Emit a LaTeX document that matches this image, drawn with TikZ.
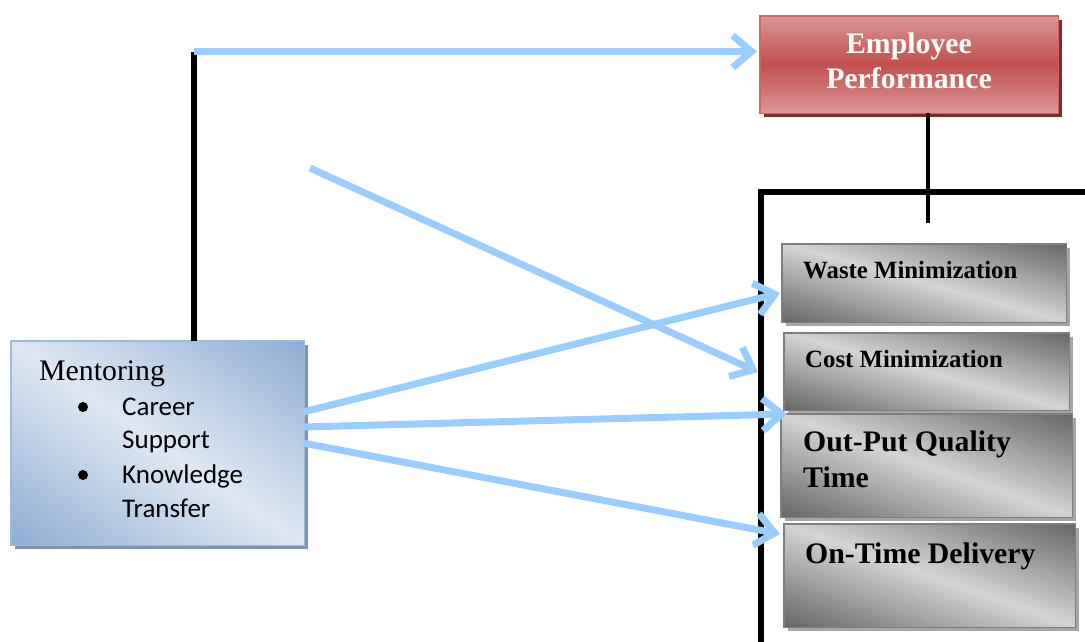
\documentclass[tikz,border=0pt]{standalone}
\usepackage{fontspec}
\setmainfont{Liberation Serif}
\newfontfamily\calib{Carlito}
\usetikzlibrary{arrows.meta}
\definecolor{arrowblue}{HTML}{99CCFF}
\definecolor{reddark}{HTML}{C0504D}
\definecolor{redlight}{HTML}{DA9795}
\definecolor{redborder}{HTML}{CF6462}
\definecolor{redshadow}{HTML}{7F2B29}
\definecolor{graydark}{HTML}{666666}
\definecolor{graylight}{HTML}{D4D4D4}
\definecolor{grayborder}{HTML}{7F7F7F}
\definecolor{grayshadow}{HTML}{A5A5A5}
\definecolor{bluedark}{HTML}{8EADD4}
\definecolor{bluelight}{HTML}{DFE8F3}
\definecolor{blueborder}{HTML}{9DB9DC}
\definecolor{blueshadow}{HTML}{7C95B5}
\tikzset{
  blarrow/.style={draw=arrowblue, line width=7pt, -{Straight Barb[length=19pt,width=32pt]}},
  blackline/.style={draw=black, line width=5.5pt},
  boxslot/.style={rectangle, anchor=north west, inner sep=0pt, draw=none},
  bigtxt/.style={font=\bfseries\fontsize{29.8}{35}\selectfont, inner sep=0pt},
  smalltxt/.style={font=\bfseries\fontsize{24.8}{30}\selectfont, inner sep=0pt},
  listtxt/.style={font=\calib\fontsize{27}{34}\selectfont, inner sep=0pt, anchor=base west},
  bulletdot/.style={circle, fill=black, inner sep=0pt, minimum size=10pt}
}
% diagonal gradient: dark at top-right and bottom-left, light along TL-BR diagonal
\newcommand\diagshade[5]{%
  \begin{scope}[shift={(#1.north west)}, x={(#2pt,0pt)}, y={(0pt,-#3pt)}]
    \clip (0,0) rectangle (1,1);
    \foreach \i in {0,...,79}{
      \pgfmathsetmacro\sa{-1+\i/40}
      \pgfmathsetmacro\sb{\sa+0.04}
      \pgfmathsetmacro\pf{min(100,abs(\sa+0.0125)*100)}
      \fill[#4!\pf!#5] (-1,-1+\sa) -- (2,2+\sa) -- (2,2+\sb) -- (-1,-1+\sb) -- cycle;
    }
  \end{scope}}
% vertical gradient: light top and bottom, dark middle
\newcommand\vertshade[5]{%
  \begin{scope}[shift={(#1.north west)}, x={(#2pt,0pt)}, y={(0pt,-#3pt)}]
    \clip (0,0) rectangle (1,1);
    \foreach \i in {0,...,59}{
      \pgfmathsetmacro\va{\i/60}
      \pgfmathsetmacro\vb{\va+0.03}
      \pgfmathsetmacro\pf{min(100,abs(2*(\va+0.0083)-1)*100)}
      \fill[#5!\pf!#4] (0,\va) rectangle (1,\vb);
    }
  \end{scope}}
\newcommand\boxshadow[2]{%
  \fill[#2] ([shift={(4,4)}]#1.north west) rectangle ([shift={(4,4)}]#1.south east);}
\newcommand\boxborder[2]{%
  \draw[#2, line width=1.5pt] (#1.north west) rectangle (#1.south east);}
\begin{document}
\begin{tikzpicture}[x=1pt,y=-1pt]
\useasboundingbox (0,0) rectangle (1085,641);

% frame
\coordinate (frameBL) at (761,643);
\coordinate (frameTL) at (761,192);
\coordinate (frameTR) at (1087,192);
\draw[blackline, line join=miter] (frameBL) -- (frameTL) -- (frameTR);

% employee performance
\node[boxslot, minimum width=298pt, minimum height=97pt] (ep) at (760,16) {};
\boxshadow{ep}{redshadow}
\vertshade{ep}{298}{97}{reddark}{redlight}
\boxborder{ep}{redborder}
\node[bigtxt, text=white, anchor=base] (ep1) at (909,53) {Employee};
\node[bigtxt, text=white, anchor=base] (ep2) at (909,88) {Performance};
\coordinate (epdrop) at (928,223);
\draw[draw=black, line width=4.5pt] (ep.south -| epdrop) -- (epdrop);

% dimension boxes
\node[boxslot, minimum width=284pt, minimum height=78pt] (wm) at (782,244) {};
\boxshadow{wm}{grayshadow}
\diagshade{wm}{284}{78}{graydark}{graylight}
\boxborder{wm}{grayborder}
\node[smalltxt, anchor=base west] (wmt) at (803,278) {Waste Minimization};

\node[boxslot, minimum width=285pt, minimum height=77pt] (cm) at (784,333) {};
\boxshadow{cm}{grayshadow}
\diagshade{cm}{285}{77}{graydark}{graylight}
\boxborder{cm}{grayborder}
\node[smalltxt, anchor=base west] (cmt) at (805,367) {Cost Minimization};

\node[boxslot, minimum width=291pt, minimum height=103pt] (oq) at (781,414) {};
\boxshadow{oq}{grayshadow}
\diagshade{oq}{291}{103}{graydark}{graylight}
\boxborder{oq}{grayborder}
\node[bigtxt, anchor=base west] (oqt1) at (803,451) {Out-Put Quality};
\node[bigtxt, anchor=base west] (oqt2) at (803,487) {Time};

\node[boxslot, minimum width=291pt, minimum height=103pt] (od) at (784,524) {};
\boxshadow{od}{grayshadow}
\diagshade{od}{291}{103}{graydark}{graylight}
\boxborder{od}{grayborder}
\node[bigtxt, anchor=base west] (odt) at (805,563) {On-Time Delivery};

% mentoring
\node[boxslot, minimum width=293pt, minimum height=204pt] (ment) at (11,341) {};
\boxshadow{ment}{blueshadow}
\diagshade{ment}{293}{204}{bluedark}{bluelight}
\boxborder{ment}{blueborder}
\node[font=\fontsize{29.8}{35}\selectfont, inner sep=0pt, anchor=base west] (mt) at (39,380) {Mentoring};
\node[bulletdot] (b1) at (83,407) {};
\node[listtxt] (l1) at (122,415) {Career};
\node[listtxt] (l2) at (122,448) {Support};
\node[bulletdot] (b2) at (83,475) {};
\node[listtxt] (l3) at (122,483) {Knowledge};
\node[listtxt] (l4) at (122,517) {Transfer};

% black connector from mentoring up
\coordinate (corner) at (193.5,52);
\draw[blackline, line width=6pt] (corner |- ment.north) -- (corner);

% blue arrows
\coordinate (topStart) at (194,51.5);
\coordinate (topEnd) at (757,51.5);
\draw[blarrow] (topStart) -- (topEnd);

\coordinate (diagStart) at (310,168);
\coordinate (diagEnd) at (758,372);
\draw[blarrow] (diagStart) -- (diagEnd);

\coordinate (m1) at (303,412);
\coordinate (m2) at (303,427);
\coordinate (m3) at (303,443);
\coordinate (t1) at (780,293);
\coordinate (t2) at (787,414);
\coordinate (t3) at (780,534);
\draw[blarrow] (m1) -- (t1);
\draw[blarrow] (m2) -- (t2);
\draw[blarrow] (m3) -- (t3);
\end{tikzpicture}
\end{document}
